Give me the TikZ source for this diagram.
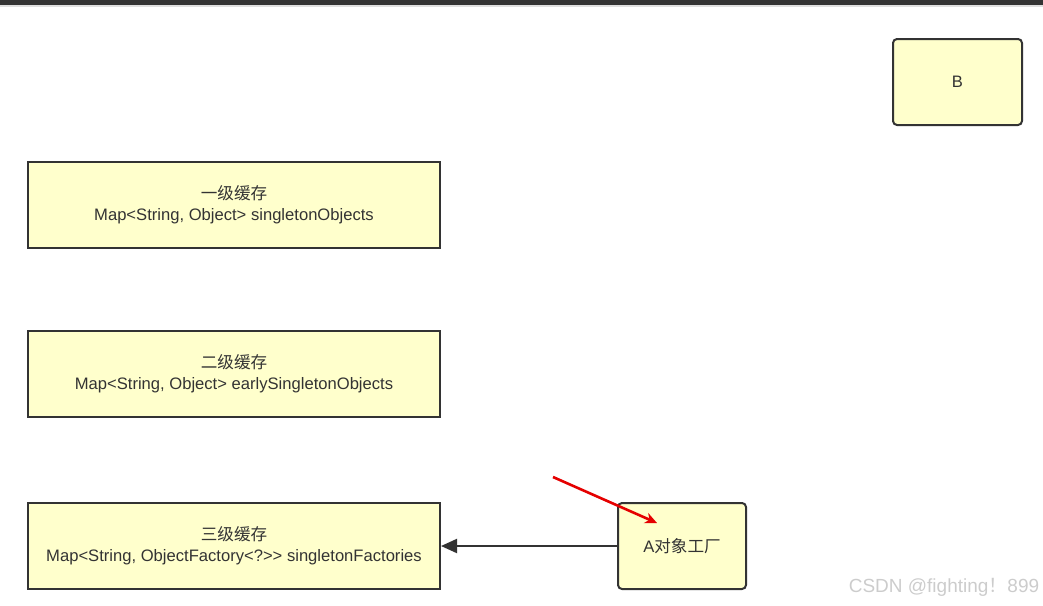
\documentclass[tikz,border=0pt]{standalone}
\usepackage{fontspec}
\setmainfont{Liberation Sans}
\newfontfamily\cjk{Noto Sans CJK SC}
\usetikzlibrary{positioning,arrows.meta}
\definecolor{boxfill}{HTML}{FFFFCC}
\definecolor{boxline}{HTML}{333333}

\begin{document}
\begin{tikzpicture}[x=1pt,y=-1pt,
  cachebox/.style={draw=boxline, line width=2pt, fill=boxfill, minimum width=412pt, minimum height=86pt, inner sep=0pt, align=center, font=\fontsize{16.6}{21}\selectfont, text=boxline},
  objbox/.style={cachebox, rounded corners=4pt, minimum width=128pt},
  link/.style={-{Triangle[length=16pt,width=14pt]}, line width=2pt, draw=boxline},
  hint/.style={-{Stealth[length=12pt,width=11pt]}, line width=2.6pt, draw=red!90!black}
]
\useasboundingbox (0,0) rectangle (1043,605);
% top bar
\fill[boxline] (0,0) rectangle (1043,5);
\fill[gray!25] (0,5) rectangle (1043,6.5);

\foreach \n/\y/\lvl/\lbl in {c1/205/一级缓存/{Map<String, Object> singletonObjects},
                            c2/374/二级缓存/{Map<String, Object> earlySingletonObjects},
                            c3/546/三级缓存/{Map<String, ObjectFactory<?{>}{>} singletonFactories}} {
  \node[cachebox] (\n) at (234,\y) {{\cjk \lvl}\\\lbl};
}
\node[objbox, minimum width=129pt] (b) at (957.5,82) {B};
\node[objbox] (afac) at (682,546) {A{\cjk 对象工厂}};

\draw[link] (afac) -- (c3);

\coordinate (hstart) at (553,477);
\coordinate (hend) at (657,523);
\draw[hint] (hstart) -- (hend);

\node[font=\fontsize{19}{21}\selectfont, text=gray!40] (mark) at (944,587) {CSDN @fighting{\cjk ！}899};
\end{tikzpicture}
\end{document}
